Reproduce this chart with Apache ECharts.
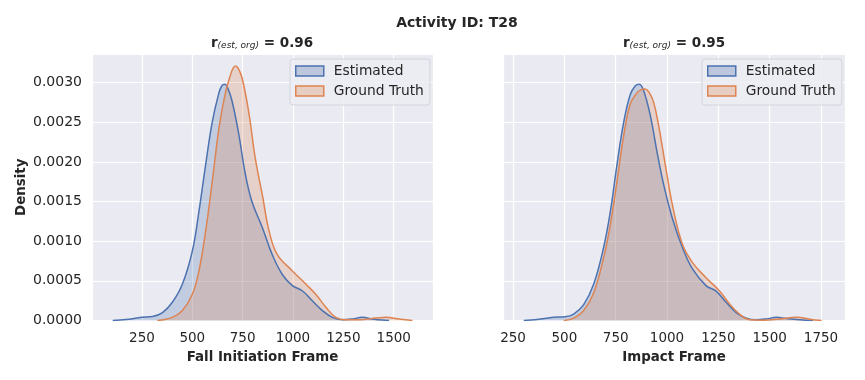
<!DOCTYPE html>
<html>
<head>
<meta charset="utf-8">
<script src="https://cdn.jsdelivr.net/npm/echarts@6/dist/echarts.min.js"></script>
<style>
html,body{margin:0;padding:0;background:#fff;}
#chart{width:865px;height:380px;}
</style>
</head>
<body>
<div id="chart"></div>
<script>
// ---- Data ----
var seriesNames = ['Estimated', 'Ground Truth'];
var panelTitles = ['0.96', '0.95'];
var xAxisNames = ['Fall Initiation Frame', 'Impact Frame'];

// Left panel: Fall Initiation Frame
var estFallX = [105,171,250,303,352,401,451,500,533,566,599,632,647,661,676,697,730,763,796,848,897,947,997,1046,1096,1146,1195,1245,1295,1344,1394,1444,1477];
var estFallY = [0,0.000013,0.00004,0.00005,0.0001,0.00023,0.00046,0.000875,0.001375,0.00196,0.0025,0.00287,0.00296,0.00298,0.00293,0.00277,0.00236,0.00185,0.0015,0.00117,0.00083,0.00058,0.00044,0.000375,0.00025,0.000125,0.00004,0.00001,0.00002,0.00004,0.00002,0.000005,0];
var gtFallX = [327,401,451,500,533,566,599,632,665,690,702,714,728,747,780,813,848,881,922,997,1063,1113,1162,1212,1262,1328,1411,1460,1527,1593];
var gtFallY = [0,0.00004,0.000125,0.00033,0.000625,0.001125,0.00175,0.00242,0.00288,0.0031,0.00318,0.00321,0.00318,0.00306,0.00263,0.00204,0.00158,0.00113,0.00083,0.000625,0.00046,0.00033,0.00017,0.00004,0.00001,0.00001,0.00003,0.00004,0.00002,0];

// Right panel: Impact Frame
var estImpX = [302,367,448,505,545,594,643,691,724,756,789,821,846,865,886,919,951,984,1026,1075,1124,1190,1239,1288,1337,1386,1435,1484,1533,1582,1647,1712];
var estImpY = [0,0.000013,0.00004,0.000046,0.00008,0.0002,0.00046,0.00092,0.001375,0.00196,0.0025,0.00285,0.00296,0.00298,0.0029,0.00258,0.00213,0.00171,0.00129,0.00092,0.00065,0.00044,0.00037,0.00023,0.0001,0.00003,0.00001,0.00002,0.00004,0.000025,0.00001,0];
var gtImpX = [497,545,594,643,691,724,756,789,821,854,874,894,912,935,959,992,1026,1075,1124,1190,1255,1304,1353,1402,1467,1549,1631,1696,1753];
var gtImpY = [0,0.00003,0.000125,0.00035,0.00079,0.00121,0.00175,0.00233,0.00273,0.00287,0.00291,0.00292,0.00288,0.00275,0.00246,0.00196,0.00146,0.00096,0.00073,0.00054,0.000375,0.00021,0.00008,0.00001,0.000004,0.00002,0.00004,0.000017,0];

function pairs(xs, ys){ return xs.map(function(x,i){ return [x, ys[i]]; }); }

var BLUE = '#4C72B0', ORANGE = '#DD8452';
var FONT = 'DejaVu Sans', TXT = '#262626';

var chart = echarts.init(document.getElementById('chart'), null, {renderer:'canvas'});

function xAxisCfg(idx, min, max, name){
  return {
    type:'value', gridIndex:idx, min:min, max:max, minInterval:250, maxInterval:250,
    name:name, nameLocation:'middle', nameGap:31,
    nameTextStyle:{fontFamily:FONT, fontSize:13.4, fontWeight:'bold', color:TXT},
    axisLine:{show:false}, axisTick:{show:false},
    axisLabel:{fontFamily:FONT, fontSize:13.5, color:TXT, margin:11, showMinLabel:false, showMaxLabel:false,
      formatter:function(v){ return String(Math.round(v)); }},
    splitLine:{show:true, lineStyle:{color:'#ffffff', width:1.2}}
  };
}
function yAxisCfg(idx, showLabels){
  return {
    type:'value', gridIndex:idx, min:0, max:0.00336, interval:0.0005,
    name: showLabels ? 'Density' : '', nameLocation:'middle', nameGap:64,
    nameTextStyle:{fontFamily:FONT, fontSize:13.4, fontWeight:'bold', color:TXT},
    axisLine:{show:false}, axisTick:{show:false},
    axisLabel:{show:showLabels, fontFamily:FONT, fontSize:14, color:TXT, margin:10, showMaxLabel:false,
      formatter:function(v){ return v.toFixed(4); }},
    splitLine:{show:true, lineStyle:{color:'#ffffff', width:1.2}}
  };
}
function kde(name, color, xi, yi, xs, ys){
  return {
    type:'line', name:name, xAxisIndex:xi, yAxisIndex:yi,
    data:pairs(xs, ys), smooth:0.4, showSymbol:false, symbol:'none',
    lineStyle:{color:color, width:1.5},
    itemStyle:{color:color},
    areaStyle:{color:color, opacity:0.25},
    animation:false
  };
}
function legendCfg(left){
  return {
    orient:'vertical', left:left, top:59, icon:'rect',
    itemWidth:28, itemHeight:10, itemGap:6,
    padding:[5,6,7,5],
    backgroundColor:'rgba(236,236,243,0.85)', borderColor:'#d4d4dc', borderWidth:1, borderRadius:3,
    textStyle:{fontFamily:FONT, fontSize:13.8, color:TXT, padding:[0,0,0,5]},
    selectedMode:false,
    data:[
      {name:seriesNames[0], itemStyle:{color:'rgba(76,114,176,0.3)', borderColor:BLUE, borderWidth:1.5}},
      {name:seriesNames[1], itemStyle:{color:'rgba(221,132,82,0.3)', borderColor:ORANGE, borderWidth:1.5}}
    ]
  };
}
function subTitle(x, val){
  return {
    type:'text', x:x, y:43,
    style:{
      text:'{b|r}{s|(est, org)}{b| = ' + val + '}',
      align:'center', verticalAlign:'middle',
      rich:{
        b:{fontFamily:FONT, fontSize:13.5, fontWeight:'bold', fill:TXT, color:TXT},
        s:{fontFamily:FONT, fontSize:9, fontStyle:'italic', fill:TXT, color:TXT, padding:[6,0,0,0]}
      }
    }
  };
}

var option = {
  backgroundColor:'#ffffff',
  animation:false,
  grid:[
    {left:92, top:54, width:341, height:266.5, backgroundColor:'#EAEAF2', show:true, borderWidth:0},
    {left:503, top:54, width:342, height:266.5, backgroundColor:'#EAEAF2', show:true, borderWidth:0}
  ],
  xAxis:[ xAxisCfg(0, 2, 1695, xAxisNames[0]), xAxisCfg(1, 201, 1867, xAxisNames[1]) ],
  yAxis:[ yAxisCfg(0, true), yAxisCfg(1, false) ],
  legend:[ legendCfg(290), legendCfg(702) ],
  series:[
    kde(seriesNames[0], BLUE, 0, 0, estFallX, estFallY),
    kde(seriesNames[1], ORANGE, 0, 0, gtFallX, gtFallY),
    kde(seriesNames[0], BLUE, 1, 1, estImpX, estImpY),
    kde(seriesNames[1], ORANGE, 1, 1, gtImpX, gtImpY)
  ],
  graphic:[
    {type:'text', x:457, y:23, style:{text:'Activity ID: T28', align:'center', verticalAlign:'middle',
      font:'bold 14px "DejaVu Sans"', fill:TXT}},
    subTitle(262, panelTitles[0]),
    subTitle(674, panelTitles[1])
  ]
};
chart.setOption(option);
</script>
</body>
</html>
